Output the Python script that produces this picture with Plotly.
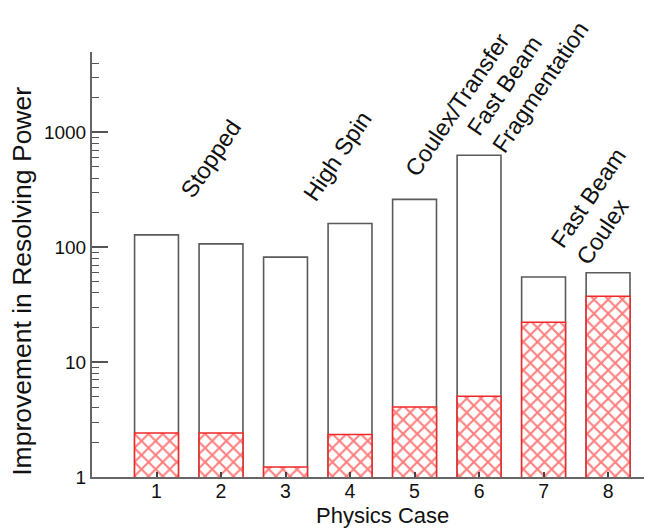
import plotly.graph_objects as go

cases = [1, 2, 3, 4, 5, 6, 7, 8]
total_improvement = [128, 107, 82, 161, 261, 631, 55, 60]
hatched_improvement = [2.42, 2.42, 1.22, 2.34, 4.07, 5.04, 22.2, 37.4]

y_tickvals = [1, 10, 100, 1000]
y_ticktext = ["1", "10", "100", "1000"]
minor_vals = [m * d for d in (1, 10, 100) for m in range(2, 10)] + [2000, 3000, 4000, 5000]

labels = ["Stopped", "High Spin", "Coulex/Transfer",
          "Fast Beam<br>Fragmentation", "Fast Beam<br>Coulex"]
label_x = [1.84, 3.81, 5.66, 6.76, 7.9]
label_logy = [2.77, 2.79, 3.24, 3.47, 2.35]

x_title = "Physics Case"
y_title = "Improvement in Resolving Power"

FONT = "Liberation Sans, Arial, Helvetica, sans-serif"

fig = go.Figure()
fig.add_trace(go.Bar(
    x=cases, y=total_improvement, width=0.68,
    marker=dict(color="white", line=dict(color="#5a5a5a", width=1.6)),
    showlegend=False,
))
fig.add_trace(go.Bar(
    x=cases, y=hatched_improvement, width=0.68,
    marker=dict(color="white",
                line=dict(color="#f02828", width=1.5),
                pattern=dict(shape="x", fgcolor="#ff0000", bgcolor="white",
                             size=10, solidity=0.38)),
    showlegend=False,
))

for t, x, y in zip(labels, label_x, label_logy):
    fig.add_annotation(x=x, y=y, xref="x", yref="y", text=t, showarrow=False,
                       textangle=-56, align="left",
                       font=dict(family=FONT, size=23.5, color="#111"))

fig.add_annotation(x=0.52, y=-0.091, xref="paper", yref="paper", text=x_title,
                   showarrow=False, xanchor="center", yanchor="middle",
                   font=dict(family=FONT, size=22, color="#111"))
fig.add_annotation(x=-0.126, y=0.461, xref="paper", yref="paper", text=y_title,
                   showarrow=False, xanchor="center", yanchor="middle", textangle=-90,
                   font=dict(family=FONT, size=26.5, color="#111"))

fig.update_layout(
    width=644, height=521,
    margin=dict(l=84, r=2, t=44, b=52),
    barmode="overlay",
    plot_bgcolor="white", paper_bgcolor="white",
    font=dict(family=FONT, size=19, color="#111"),
)
fig.update_xaxes(
    range=[0, 8.65], tickvals=cases, ticktext=[str(c) for c in cases],
    ticks="inside", ticklen=5, tickwidth=1.5, tickcolor="#444",
    showline=True, linecolor="#666", linewidth=2, showgrid=False, zeroline=False,
    tickfont=dict(size=19.5), ticklabelstandoff=-4,
)
fig.update_yaxes(
    type="log", range=[0, 3.699],
    tickvals=y_tickvals, ticktext=y_ticktext,
    ticks="inside", ticklen=16, tickwidth=1.5, tickcolor="#555",
    minor=dict(tickvals=minor_vals, ticks="inside", ticklen=7,
               tickwidth=1.3, tickcolor="#555", showgrid=False),
    showline=True, linecolor="#666", linewidth=2, showgrid=False, zeroline=False,
    tickfont=dict(size=19),
)

fig.write_html("out.html")
